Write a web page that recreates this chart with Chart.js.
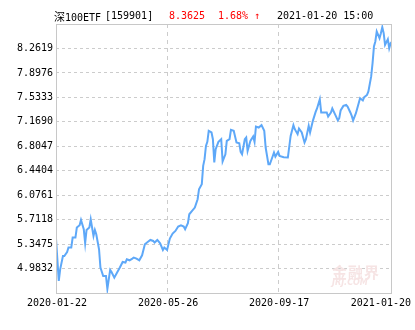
<!DOCTYPE html>
<html>
<head>
<meta charset="utf-8">
<script src="https://cdn.jsdelivr.net/npm/chart.js@4.4.0/dist/chart.umd.min.js"></script>
<style>
  html, body { margin: 0; padding: 0; background: #fff; }
  #wrap { position: relative; width: 415px; height: 330px; }
  #wrap canvas { position: absolute; left: 0; top: 0; }
  .hd { position: absolute; top: 10px; font: 10px "DejaVu Sans Mono", monospace; line-height: 12px; white-space: pre; color: #000; }
  .red { color: #ff0000; }
  .wm { position: absolute; color: #f6e4e4; white-space: nowrap; line-height: 1; }
</style>
</head>
<body>
<div id="wrap">
  <canvas id="etf-line" width="415" height="330"></canvas>
  <span class="hd" style="left:54px;"><span style="font-family:'Noto Sans CJK SC';font-size:11px;">深</span>100ETF</span>
  <span class="hd" style="left:105px;">[159901]</span>
  <span class="hd red" style="left:169px;">8.3625</span>
  <span class="hd red" style="left:218px;">1.68% ↑</span>
  <span class="hd" style="left:277px;">2021-01-20 15:00</span>
  <span class="wm" style="left:332px;top:261px;font:bold 15px 'Noto Sans CJK SC';letter-spacing:1px;">金融界</span>
  <span class="wm" style="left:332px;top:278px;font:italic bold 8px 'DejaVu Sans';">JRJ.COM</span>
</div>

<script>

/* LINE: 深100ETF one year */

// trading day index (0 = 2020-01-22, 242 = 2021-01-20)
const days = [
  0,2,3,5,6,8,9,11,12,14,
  15,17,18,20,21,22,24,25,27,28,
  29,31,32,34,36,37,39,40,42,44,
  46,48,50,51,53,55,56,58,60,62,
  64,66,68,70,71,73,75,77,78,80,
  82,84,86,88,90,92,93,95,96,98,
  100,102,103,105,106,107,108,109,110,112,
  113,114,115,117,119,120,122,123,125,126,
  128,130,132,133,134,136,137,138,140,142,
  143,144,146,148,150,151,152,153,154,156,
  157,158,160,161,164,167,169,171,172,174,
  175,177,179,180,182,183,185,187,188,190,
  191,193,195,196,198,199,201,203,204,205,
  207,209,210,212,213,214,216,217,219,221,
  222,224,225,227,228,229,230,231,233,234,
  235,236,237,239,240,241,242
];

const prices = [
  5.430,4.800,4.972,5.170,5.170,5.230,5.296,5.296,5.445,5.445,
  5.594,5.628,5.707,5.568,5.360,5.558,5.594,5.717,5.469,5.558,
  5.494,5.270,4.998,4.872,4.872,4.680,4.962,4.930,4.848,4.923,
  4.998,5.081,5.072,5.121,5.106,5.132,5.147,5.132,5.106,5.181,
  5.345,5.379,5.409,5.394,5.370,5.409,5.360,5.260,5.296,5.260,
  5.430,5.504,5.543,5.609,5.628,5.609,5.568,5.658,5.792,5.841,
  5.892,6.016,6.165,6.239,6.512,6.612,6.810,6.870,7.034,7.010,
  6.910,6.563,6.761,6.870,6.910,6.580,6.686,6.885,6.910,7.049,
  7.034,6.861,6.850,6.721,6.686,6.910,6.935,6.736,6.885,6.950,
  6.870,7.099,7.084,7.119,7.034,6.786,6.661,6.537,6.537,6.652,
  6.712,6.652,6.721,6.661,6.642,6.637,6.959,7.119,7.059,6.985,
  7.069,7.010,6.861,6.910,7.108,7.010,7.183,7.317,7.368,7.506,
  7.308,7.308,7.308,7.248,7.308,7.368,7.280,7.189,7.223,7.338,
  7.406,7.421,7.397,7.308,7.257,7.189,7.297,7.372,7.521,7.487,
  7.536,7.570,7.621,7.845,8.043,8.292,8.366,8.515,8.415,8.490,
  8.579,8.490,8.316,8.400,8.266,8.341,8.3625
];

const xTickPos = [0, 80, 160, 242];
const xTickLabels = ['2020-01-22', '2020-05-26', '2020-09-17', '2021-01-20'];

const yMin = 4.6189;
const yMax = 8.6262;
const yTicks = [4.9832, 5.3475, 5.7118, 6.0761, 6.4404, 6.8047, 7.1690, 7.5333, 7.8976, 8.2619];

const points = days.map((d, i) => ({x: d, y: prices[i]}));

const monoFont = {family: '"DejaVu Sans Mono", monospace', size: 10};

// outer grey frame round the plot
const frame = {
    id: 'frame',
    afterDraw(chart) {
        const a = chart.chartArea;
        const c = chart.ctx;
        c.save();
        c.strokeStyle = '#c8c8c8';
        c.lineWidth = 1;
        c.strokeRect(Math.round(a.left) + 0.5, Math.round(a.top) + 0.5,
                     Math.round(a.right - a.left) - 1, Math.round(a.bottom - a.top));
        c.restore();
    }
};

// date labels under the plot, kept inside the canvas like the original
const dateLabels = {
    id: 'dateLabels',
    afterDraw(chart) {
        const sx = chart.scales.x;
        const c = chart.ctx;
        c.save();
        c.font = '10px "DejaVu Sans Mono", monospace';
        c.fillStyle = '#000';
        c.textBaseline = 'middle';
        c.textAlign = 'center';
        xTickPos.forEach((v, i) => {
            const w = c.measureText(xTickLabels[i]).width;
            let px = sx.getPixelForValue(v) + 1;
            px = Math.min(px, chart.width - 4 - w / 2);
            c.fillText(xTickLabels[i], px, chart.chartArea.bottom + 10);
        });
        c.restore();
    }
};

const ctx = document.getElementById('etf-line').getContext('2d');
const chart = new Chart(ctx, {
    type: 'line',
    data: {
        datasets: [{
            label: '深100ETF',
            data: points,
            borderColor: 'rgb(94,168,248)',
            borderWidth: 2,
            pointRadius: 0,
            tension: 0,
            fill: false
        }]
    },
    options: {
        responsive: false,
        animation: false,
        devicePixelRatio: 1,
        layout: {
            padding: {left: 0, right: 23, top: 24, bottom: 0}
        },
        plugins: {
            legend: {display: false},
            tooltip: {enabled: false}
        },
        scales: {
            x: {
                type: 'linear',
                min: 0,
                max: 242,
                afterBuildTicks: (axis) => {
                    axis.ticks = xTickPos.slice(1, -1).map(v => ({value: v}));
                },
                afterFit: (axis) => { axis.height = 37; },
                ticks: {display: false},
                grid: {color: '#cccccc', drawTicks: false},
                border: {display: false, dash: [4, 4]}
            },
            y: {
                min: yMin,
                max: yMax,
                afterBuildTicks: (axis) => {
                    axis.ticks = yTicks.map(v => ({value: v}));
                },
                afterFit: (axis) => { axis.width = 56; },
                ticks: {
                    color: '#000',
                    font: monoFont,
                    padding: 3,
                    callback: (v) => Number(v).toFixed(4)
                },
                grid: {color: '#cccccc', drawTicks: false},
                border: {display: false, dash: [3, 3]}
            }
        }
    },
    plugins: [frame, dateLabels]
});

</script>
</body>
</html>
